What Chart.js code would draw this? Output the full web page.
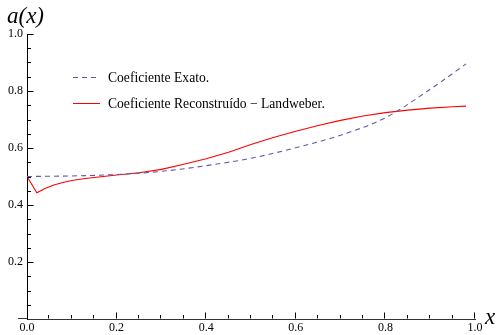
<!DOCTYPE html>
<html>
<head>
<meta charset="utf-8">
<script src="https://cdn.jsdelivr.net/npm/chart.js@4.4.1/dist/chart.umd.min.js"></script>
<style>
html,body{margin:0;padding:0;background:#fff;}
canvas{display:block;}
</style>
</head>
<body>
<canvas id="c" width="498" height="335"></canvas>
<script>
// ---- data ----
const xExact = [0, 0.1, 0.2, 0.3, 0.4, 0.5, 0.6, 0.7, 0.8, 0.9, 0.98];
const exactValues = [0.500, 0.502, 0.507, 0.518, 0.538, 0.564, 0.601, 0.645, 0.706, 0.806, 0.895];
const xRecon = [0, 0.022, 0.04, 0.06, 0.08, 0.1, 0.13, 0.165, 0.2, 0.25, 0.3, 0.35, 0.4, 0.45, 0.5, 0.55, 0.6, 0.65, 0.7, 0.75, 0.8, 0.85, 0.9, 0.95, 0.98];
const reconValues = [0.500, 0.443, 0.458, 0.470, 0.479, 0.486, 0.493, 0.499, 0.505, 0.513, 0.525, 0.543, 0.562, 0.585, 0.612, 0.637, 0.659, 0.679, 0.697, 0.712, 0.724, 0.733, 0.740, 0.745, 0.747];
const xTickValues = [0, 0.2, 0.4, 0.6, 0.8, 1.0];
const yTickValues = [0.2, 0.4, 0.6, 0.8, 1.0];
const xMinorTicks = [0.05,0.1,0.15,0.25,0.3,0.35,0.45,0.5,0.55,0.65,0.7,0.75,0.85,0.9,0.95];
const yMinorTicks = [0.05,0.1,0.15,0.25,0.3,0.35,0.45,0.5,0.55,0.65,0.7,0.75,0.85,0.9,0.95];
const xAxisStart = -0.02;
const seriesNames = ['Coeficiente Exato.', 'Coeficiente Reconstruído \u2212 Landweber.'];
const yAxisLabel = 'a(x)';
const xAxisLabel = 'x';

const SERIF = '"Liberation Serif", "Times New Roman", serif';
const BLUE = '#5a5aaa';
const RED = '#ff0000';

const decorPlugin = {
  id: 'decor',
  afterDraw(chart) {
    const ctx = chart.ctx;
    const xs = chart.scales.x, ys = chart.scales.y;
    const x0 = Math.round(xs.getPixelForValue(0)) + 0.5;
    const y0 = Math.round(ys.getPixelForValue(0)) - 0.5;
    ctx.save();
    // extension of the x axis to the left of the y axis
    ctx.strokeStyle = '#333';
    ctx.lineWidth = 1;
    ctx.beginPath();
    ctx.moveTo(xs.getPixelForValue(xAxisStart), y0);
    ctx.lineTo(x0, y0);
    ctx.stroke();

    ctx.strokeStyle = '#000';
    ctx.beginPath();
    xTickValues.forEach(v => { if (v === 0) return; const p = Math.round(xs.getPixelForValue(v)) - 0.5; ctx.moveTo(p, y0); ctx.lineTo(p, y0 - 6); });
    xMinorTicks.forEach(v => { const p = Math.round(xs.getPixelForValue(v)) - 0.5; ctx.moveTo(p, y0); ctx.lineTo(p, y0 - 3.5); });
    yTickValues.forEach(v => { const p = Math.round(ys.getPixelForValue(v)) + 0.5; ctx.moveTo(x0, p); ctx.lineTo(x0 + 6, p); });
    yMinorTicks.forEach(v => { const p = Math.round(ys.getPixelForValue(v)) + 0.5; ctx.moveTo(x0, p); ctx.lineTo(x0 + 3.5, p); });
    ctx.stroke();

    // axis labels
    ctx.fillStyle = '#000';
    ctx.font = 'italic 23px ' + SERIF;
    ctx.textAlign = 'left';
    ctx.textBaseline = 'alphabetic';
    ctx.fillText(yAxisLabel, 7, 23);
    ctx.fillText(xAxisLabel, 485, 324);

    // legend
    ctx.font = '13.6px ' + SERIF;
    ctx.textBaseline = 'middle';
    ctx.lineWidth = 1;
    ctx.strokeStyle = BLUE;
    ctx.setLineDash([5, 4]);
    ctx.beginPath(); ctx.moveTo(73, 77.5); ctx.lineTo(100, 77.5); ctx.stroke();
    ctx.setLineDash([]);
    ctx.strokeStyle = RED;
    ctx.beginPath(); ctx.moveTo(73, 103.5); ctx.lineTo(100, 103.5); ctx.stroke();
    ctx.fillText(seriesNames[0], 108, 78);
    ctx.fillText(seriesNames[1], 108, 104);
    ctx.restore();
  }
};

new Chart(document.getElementById('c'), {
  type: 'line',
  data: {
    datasets: [
      {
        label: seriesNames[0],
        data: xExact.map((x, i) => ({x: x, y: exactValues[i]})),
        borderColor: BLUE,
        borderWidth: 1.1,
        borderDash: [5, 4],
        pointRadius: 0,
        cubicInterpolationMode: 'monotone',
        fill: false
      },
      {
        label: seriesNames[1],
        data: xRecon.map((x, i) => ({x: x, y: reconValues[i]})),
        borderColor: RED,
        borderWidth: 1.1,
        pointRadius: 0,
        tension: 0,
        fill: false
      }
    ]
  },
  options: {
    responsive: false,
    devicePixelRatio: 1,
    animation: false,
    layout: { padding: { left: 0, right: 23, top: 34, bottom: 0 } },
    plugins: { legend: { display: false }, tooltip: { enabled: false }, title: { display: false } },
    scales: {
      x: {
        type: 'linear',
        position: 'bottom',
        min: 0,
        max: 1.0,
        afterBuildTicks: s => { s.ticks = xTickValues.map(v => ({value: v})); },
        afterFit: s => { s.height = 16; },
        grid: { display: false, drawTicks: false },
        border: { display: true, color: '#333', width: 1 },
        ticks: {
          padding: 2,
          color: '#000',
          font: { family: SERIF, size: 12 },
          maxRotation: 0,
          autoSkip: false,
          callback: v => Number(v).toFixed(1)
        }
      },
      y: {
        type: 'linear',
        position: 'left',
        min: 0,
        max: 1.0,
        afterBuildTicks: s => { s.ticks = yTickValues.map(v => ({value: v})); },
        afterFit: s => { s.width = 27; },
        grid: { display: false, drawTicks: false },
        border: { display: true, color: '#000', width: 1 },
        ticks: {
          padding: 4,
          color: '#000',
          font: { family: SERIF, size: 12 },
          autoSkip: false,
          callback: v => Number(v).toFixed(1)
        }
      }
    }
  },
  plugins: [decorPlugin]
});
</script>
</body>
</html>
